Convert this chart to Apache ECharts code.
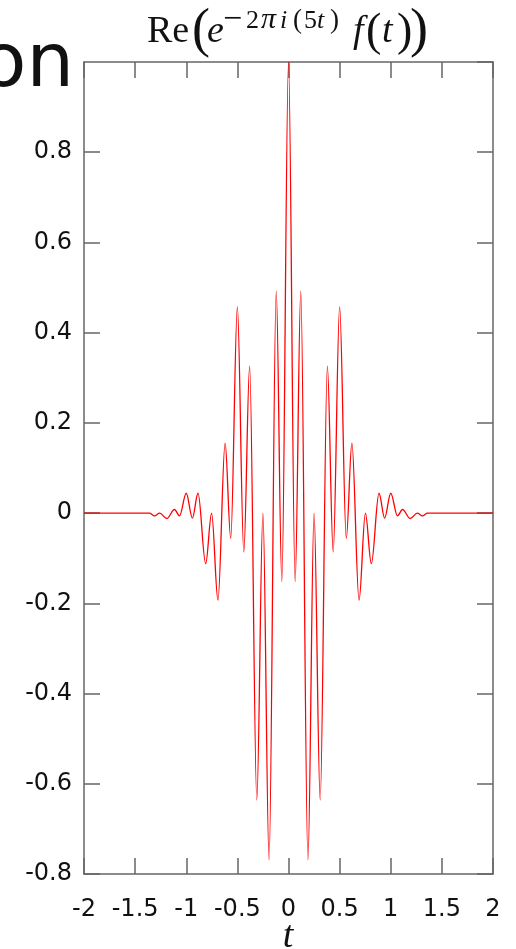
<!DOCTYPE html>
<html>
<head>
<meta charset="utf-8">
<script src="https://cdn.jsdelivr.net/npm/echarts@6/dist/echarts.min.js"></script>
<style>
  html, body { margin: 0; padding: 0; background: #fff; }
  #chart { width: 516px; height: 949px; }
</style>
</head>
<body>
<div id="chart"></div>
<script>
// t 轴上的取值（从原图读出的极值点）
const tValues = [
  -2, -1.36, -1.31, -1.26, -1.19, -1.115, -1.066, -1.0, -0.94, -0.885,
  -0.81, -0.752, -0.69, -0.62, -0.565, -0.5, -0.437, -0.38, -0.31, -0.25,
  -0.19, -0.12, -0.065, 0, 0.065, 0.12, 0.19, 0.25, 0.31, 0.38,
  0.437, 0.5, 0.565, 0.62, 0.69, 0.752, 0.81, 0.885, 0.94, 1.0,
  1.066, 1.115, 1.19, 1.26, 1.31, 1.36, 2
]
// Re(e^{-2πi(5t)} f(t)) 对应的值
const reValues = [
  0, 0, -0.006, 0.0, -0.012, 0.008, -0.006, 0.044, -0.011, 0.044,
  -0.112, 0.0, -0.193, 0.155, -0.056, 0.457, -0.086, 0.326, -0.636, 0.0,
  -0.769, 0.492, -0.152, 1.0, -0.152, 0.492, -0.769, 0.0, -0.636, 0.326,
  -0.086, 0.457, -0.056, 0.155, -0.193, 0.0, -0.112, 0.044, -0.011, 0.044,
  -0.006, 0.008, -0.012, 0.0, -0.006, 0, 0
]
// 坐标轴范围
const tRange = [-2, 2, 0.5]
const reRange = [-0.8, 1.0, 0.2]

const axisColor = '#666'
const serif = '"Liberation Serif", "DejaVu Serif", serif'

// 通用坐标轴样式
const makeAxis = (range, position, showLabel, labelOpts) => ({
  type: 'value',
  position,
  min: range[0],
  max: range[1],
  interval: range[2],
  axisLine: { show: true, onZero: false, lineStyle: { color: axisColor, width: 1.5 } },
  axisTick: { show: true, inside: true, length: 16, lineStyle: { color: axisColor, width: 1.5 } },
  axisLabel: Object.assign({
    show: showLabel,
    fontFamily: 'DejaVu Sans',
    fontSize: 24,
    color: '#111'
  }, labelOpts),
  splitLine: { show: false }
})

// 文字元素（y 为基线位置，转换为 middle 对齐）
const txt = (text, x, baseline, size, italic, family, align) => ({
  type: 'text',
  x,
  y: baseline - 0.3375 * size,
  silent: true,
  style: {
    text,
    font: (italic ? 'italic ' : '') + size + 'px ' + (family || serif),
    fill: '#111',
    align: align || 'left',
    textAlign: align || 'left',
    verticalAlign: 'middle',
    textVerticalAlign: 'middle'
  }
})

const chart = echarts.init(document.getElementById('chart'))

const option = {
  animation: false,
  backgroundColor: '#fff',
  grid: { left: 84, right: 23, top: 62, bottom: 75, containLabel: false },
  xAxis: [
    makeAxis(tRange, 'bottom', true, { margin: 24 }),
    makeAxis(tRange, 'top', false, {})
  ],
  yAxis: [
    makeAxis(reRange, 'left', true, { margin: 12, showMaxLabel: false }),
    makeAxis(reRange, 'right', false, {})
  ],
  series: [
    {
      type: 'line',
      xAxisIndex: 0,
      yAxisIndex: 0,
      data: tValues.map((t, i) => [t, reValues[i]]),
      showSymbol: false,
      smooth: 0.35,
      smoothMonotone: 'x',
      lineStyle: { color: '#ff0000', width: 1.3 },
      z: 3
    }
  ],
  graphic: [
    // 左上角被截断的大字
    Object.assign(txt('on', 74, 92, 75, false, '"DejaVu Sans"', 'right'), { y: 92 - 0.346 * 75 }),
    // 标题 Re(e^{-2πi(5t)} f(t))
    txt('Re', 147, 45, 38, false),
    txt('(', 192, 50, 54, false),
    txt('e', 207, 45, 38, true),
    txt('\u2212', 223, 31.5, 34, false),
    txt('2', 246, 30, 26, false),
    txt('\u03c0', 261, 30, 30, true),
    txt('i', 280, 30, 26, true),
    txt('(', 293, 30, 27, false),
    txt('5', 304, 30, 26, false),
    txt('t', 317, 30, 26, true),
    txt(')', 330, 30, 27, false),
    txt('f', 353, 45, 38, true),
    txt('(', 366, 48, 46, false),
    txt('t', 382, 45, 38, true),
    txt(')', 397, 48, 46, false),
    txt(')', 410, 50, 54, false),
    // 横轴名称
    txt('t', 288, 950, 38, true, null, 'center')
  ]
}

chart.setOption(option)
</script>
</body>
</html>
